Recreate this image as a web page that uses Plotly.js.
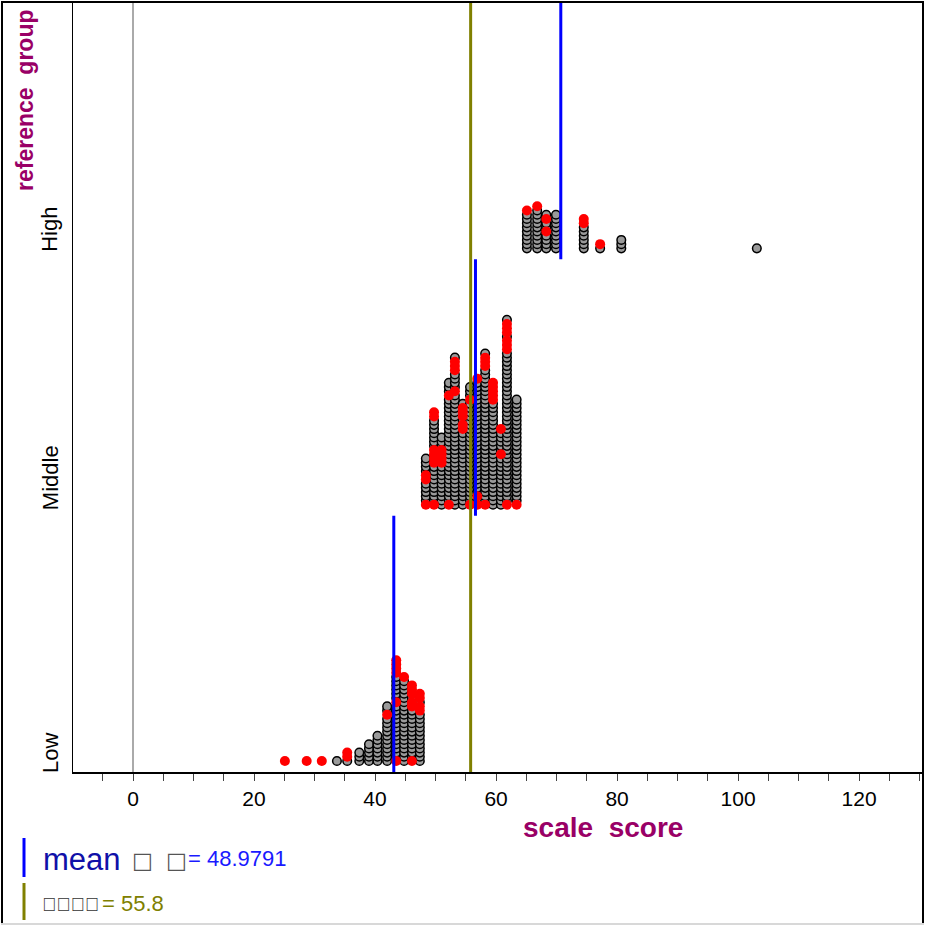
<!DOCTYPE html>
<html><head><meta charset="utf-8">
<script src="https://cdn.plot.ly/plotly-3.0.1.min.js"></script>
<style>html,body{margin:0;padding:0;background:#fff}#chart{width:926px;height:926px}</style>
</head><body><div id="chart"></div>
<script>
// ---- data ----
const groups = ['Low', 'Middle', 'High'];

const lowScores = [25.1, 28.7, 31.2, 33.7, 35.4, 37.4, 39.0, 40.4, 42.0, 43.5, 44.8, 46.1, 47.4];
const lowCounts = [1, 1, 1, 1, 3, 3, 5, 7, 14, 25, 21, 19, 17];
const lowRed = [[0], [0], [0], [], [1, 2], [], [], [], [11], [0, 14, 21, 22, 23, 24], [20], [0, 13, 14, 16, 17, 18], [12, 13, 15, 16]];

const midScores = [48.4, 49.75, 51.0, 52.2, 53.2, 54.5, 55.7, 56.9, 58.2, 59.5, 60.8, 61.8, 63.4];
const midCounts = [12, 23, 17, 30, 36, 25, 29, 31, 37, 30, 19, 45, 26];
const midRed = [[0, 6, 7], [0, 10, 11, 12, 13, 21, 22], [10, 11, 12, 13], [0, 26], [27, 32, 33, 34], [18, 19, 21, 22, 23], [0, 25], [0, 2, 30], [0, 33, 34, 35], [25, 26, 27, 28, 29], [12, 18], [0, 37, 38, 39, 41, 42, 43], [0]];

const highScores = [65.1, 66.8, 68.3, 69.9, 74.5, 77.2, 80.7, 103.1];
const highCounts = [10, 11, 9, 9, 8, 2, 3, 1];
const highRed = [[9], [10], [4, 7], [], [6, 7], [1], [], []];

const groupMeans = [43.1, 56.6, 70.7];
const referenceValue = 55.8;
const meanText = '= 48.9791';
const refText = '= 55.8';
const xTicks = [0, 20, 40, 60, 80, 100, 120];

// ---- layout geometry (pixels) ----
const L = 73, R = 922, T = 3, B = 772;
const plotW = R - L, plotH = B - T;
const unitPx = plotH / 3;
const step = 4.2 / unitPx, base = 11 / unitPx;
const px = x => (x - L) / plotW;
const py = y => (B - y) / plotH;

const FONT = 'Liberation Sans, Arial, sans-serif';
const PURPLE = '#990066';

const grey = {x: [], y: []}, red = {x: [], y: []};
function stack(scores, counts, reds, g) {
  scores.forEach((s, i) => {
    for (let k = 0; k < counts[i]; k++) {
      const t = reds[i].includes(k) ? red : grey;
      t.x.push(s);
      t.y.push(g + base + k * step);
    }
  });
}
stack(lowScores, lowCounts, lowRed, 0);
stack(midScores, midCounts, midRed, 1);
stack(highScores, highCounts, highRed, 2);

const traces = [
  {type: 'scatter', mode: 'markers', x: grey.x, y: grey.y, hoverinfo: 'skip',
   marker: {size: 8.6, color: '#9a9a9a', line: {color: '#000', width: 1.5}}},
  {type: 'scatter', mode: 'markers', x: red.x, y: red.y, hoverinfo: 'skip',
   marker: {size: 10, color: '#ff0000', line: {width: 0}}},
];
groupMeans.forEach((m, g) => traces.push({type: 'scatter', mode: 'lines', x: [m, m], y: [g, g + 1],
  line: {color: '#0000ff', width: 3}, hoverinfo: 'skip'}));
traces.push({type: 'scatter', mode: 'lines', x: [referenceValue, referenceValue], y: [0, 3],
  line: {color: '#808000', width: 3}, hoverinfo: 'skip'});

const annotations = [];
const labelShift = [-3, 3, 5];
groups.forEach((g, i) => annotations.push({xref: 'paper', yref: 'y', x: px(50), y: i, xanchor: 'center', yanchor: 'bottom',
  yshift: labelShift[i], text: g, textangle: -90, showarrow: false, font: {family: FONT, size: 22, color: '#000'}}));
annotations.push({xref: 'paper', yref: 'paper', x: px(25), y: py(7), xanchor: 'center', yanchor: 'top',
  text: 'reference  group', textangle: -90, showarrow: false, font: {family: FONT, size: 23, color: PURPLE, weight: 'bold'}});
annotations.push({xref: 'paper', yref: 'paper', x: px(603), y: py(827), xanchor: 'center', yanchor: 'middle',
  text: 'scale  score', showarrow: false, font: {family: FONT, size: 28, color: PURPLE, weight: 'bold'}});
// legend texts
annotations.push({xref: 'paper', yref: 'paper', x: px(41), y: py(859), xanchor: 'left', yanchor: 'middle',
  text: 'mean', showarrow: false, font: {family: FONT, size: 31, color: '#1010a8'}});
annotations.push({xref: 'paper', yref: 'paper', x: px(130), y: py(861), xanchor: 'left', yanchor: 'middle',
  text: '□', showarrow: false, font: {family: 'DejaVu Sans', size: 22, color: '#555'}});
annotations.push({xref: 'paper', yref: 'paper', x: px(164), y: py(861), xanchor: 'left', yanchor: 'middle',
  text: '□', showarrow: false, font: {family: 'DejaVu Sans', size: 22, color: '#555'}});
annotations.push({xref: 'paper', yref: 'paper', x: px(186), y: py(858), xanchor: 'left', yanchor: 'middle',
  text: meanText, showarrow: false, font: {family: FONT, size: 22, color: '#1a1aff'}});
annotations.push({xref: 'paper', yref: 'paper', x: px(40), y: py(904), xanchor: 'left', yanchor: 'middle',
  text: '\uE000\uE000\uE000\uE000', showarrow: false, font: {family: 'Liberation Sans', size: 19, color: '#333'}});
annotations.push({xref: 'paper', yref: 'paper', x: px(100), y: py(903), xanchor: 'left', yanchor: 'middle',
  text: refText, showarrow: false, font: {family: FONT, size: 22, color: '#808000'}});

const line = (x0, y0, x1, y1, color, width) => ({type: 'line', xref: 'paper', yref: 'paper',
  x0: px(x0), y0: py(y0), x1: px(x1), y1: py(y1), line: {color, width}});
const shapes = [
  line(2, 1, 2, 925, '#000', 2),
  line(1, 2, 924, 2, '#000', 2),
  line(923, 1, 923, 925, '#000', 2),
  line(1, 924, 924, 924, '#d8d8d8', 2),
  line(24, 838, 24, 877, '#0000ff', 3),
  line(24, 883, 24, 920, '#808000', 3),
];

const layout = {
  width: 926, height: 926,
  margin: {l: L, r: 926 - R, t: T, b: 926 - B, pad: 0},
  paper_bgcolor: '#fff', plot_bgcolor: '#fff',
  showlegend: false,
  xaxis: {range: [-9.92, 130.4], tickvals: xTicks, ticktext: xTicks.map(String),
    ticks: 'outside', ticklen: 7, tickwidth: 1, tickcolor: '#444',
    minor: {dtick: 5, tick0: 0, ticks: 'outside', ticklen: 7, tickwidth: 1, tickcolor: '#444', showgrid: false},
    showline: true, linecolor: '#000', linewidth: 1.5, mirror: true, showgrid: false,
    zeroline: true, zerolinecolor: '#aaaaaa', zerolinewidth: 1.5,
    tickfont: {family: FONT, size: 21, color: '#000'}, fixedrange: true},
  yaxis: {range: [0, 3], showticklabels: false, ticks: '', showgrid: false, zeroline: false,
    showline: true, linecolor: '#000', linewidth: 1.5, mirror: true, fixedrange: true},
  annotations, shapes,
};
Plotly.newPlot('chart', traces, layout, {staticPlot: true});
</script></body></html>
